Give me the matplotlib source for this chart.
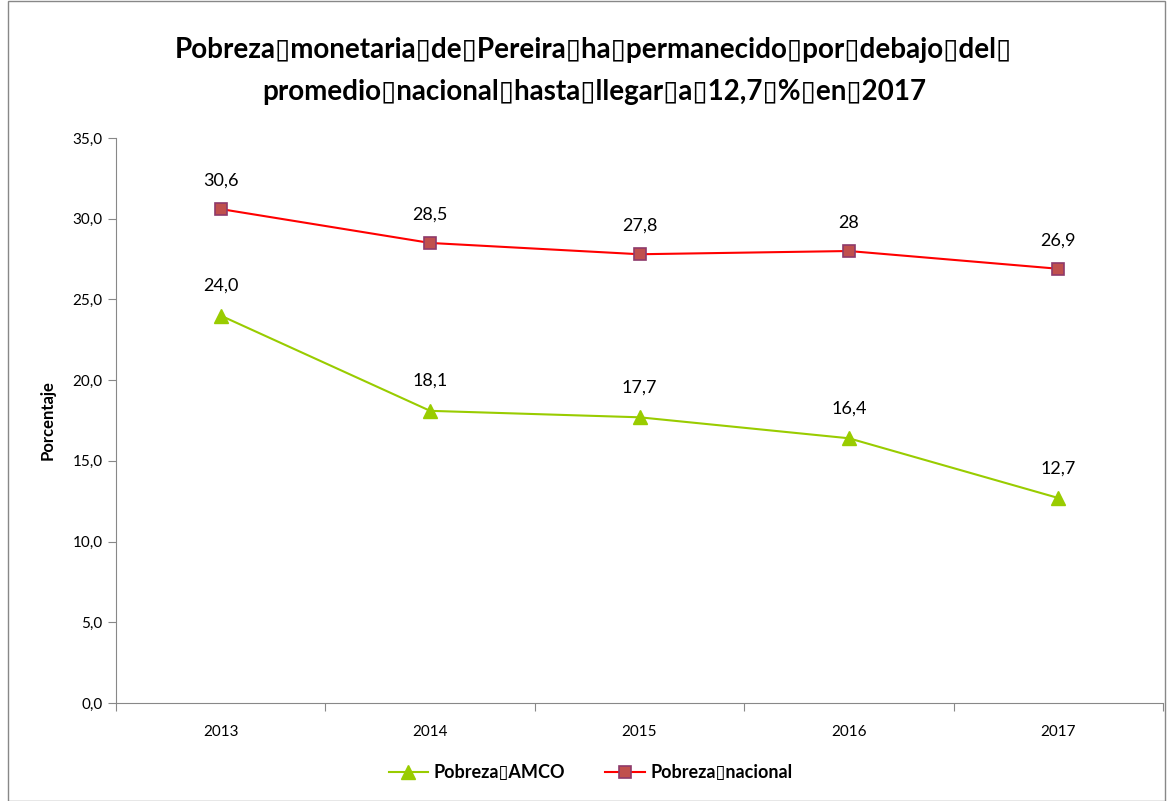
import matplotlib.pyplot as plt
from matplotlib.patches import Rectangle

# datos
anios = ['2013', '2014', '2015', '2016', '2017']
pobreza_amco = [24.0, 18.1, 17.7, 16.4, 12.7]
pobreza_nacional = [30.6, 28.5, 27.8, 28.0, 26.9]
etiquetas_amco = ['24,0', '18,1', '17,7', '16,4', '12,7']
etiquetas_nacional = ['30,6', '28,5', '27,8', '28', '26,9']

B = '\u25af'  # caracter que aparece como caja en el original
titulo = (f'Pobreza{B}monetaria{B}de{B}Pereira{B}ha{B}permanecido{B}por{B}debajo{B}del{B}\n'
          f'promedio{B}nacional{B}hasta{B}llegar{B}a{B}12,7{B}%{B}en{B}2017')

plt.rcParams['font.family'] = ['Lato', 'DejaVu Sans']

fig = plt.figure(figsize=(11.69, 8.01), dpi=100)
ax = fig.add_axes([0.0992, 0.1223, 0.8957, 0.7054])

x = list(range(len(anios)))
ax.plot(x, pobreza_amco, color='#99CC00', lw=1.5, marker='^', ms=10,
        mfc='#99CC00', mec='#99CC00', label=f'Pobreza{B}AMCO')
ax.plot(x, pobreza_nacional, color='#FF0000', lw=1.5, marker='s', ms=9,
        mfc='#C0504D', mec='#8E3A6B', mew=1.2, label=f'Pobreza{B}nacional')

for xi, v, t in zip(x, pobreza_amco, etiquetas_amco):
    ax.annotate(t, (xi, v), xytext=(0, 21.5), textcoords='offset points',
                ha='center', va='center', fontsize=13)
for xi, v, t in zip(x, pobreza_nacional, etiquetas_nacional):
    ax.annotate(t, (xi, v), xytext=(0, 20.5), textcoords='offset points',
                ha='center', va='center', fontsize=13)

ax.set_xlim(-0.5, 4.5)
ax.set_ylim(0, 35)
ax.set_yticks(range(0, 36, 5))
ax.set_yticklabels([f'{v:.1f}'.replace('.', ',') for v in range(0, 36, 5)], fontsize=11)
ax.set_xticks([i - 0.5 for i in range(6)])
ax.set_xticklabels([])
ax.set_xticks(x, minor=True)
ax.set_xticklabels(anios, minor=True, fontsize=11)
ax.tick_params(axis='x', which='minor', length=0, pad=16)
ax.tick_params(axis='x', which='major', length=6, color='#888888')
ax.tick_params(axis='y', length=6, color='#888888')

for s in ['top', 'right']:
    ax.spines[s].set_visible(False)
for s in ['left', 'bottom']:
    ax.spines[s].set_color('#888888')

ax.set_ylabel('Porcentaje', fontsize=12, fontweight='bold', labelpad=12)

fig.text(0.508, 0.911, titulo, ha='center', va='center', fontsize=20,
         fontweight='bold', linespacing=1.75)

fig.legend(loc='center', bbox_to_anchor=(0.505, 0.035), ncol=2, frameon=False,
           prop={'weight': 'bold', 'size': 13}, handlelength=2.2,
           handletextpad=0.3, columnspacing=2.2)

fig.patches.append(Rectangle((0.007, 0.0), 0.99, 0.999, transform=fig.transFigure,
                             fill=False, ec='#888888', lw=1))

fig.savefig('out.png', dpi=100)
